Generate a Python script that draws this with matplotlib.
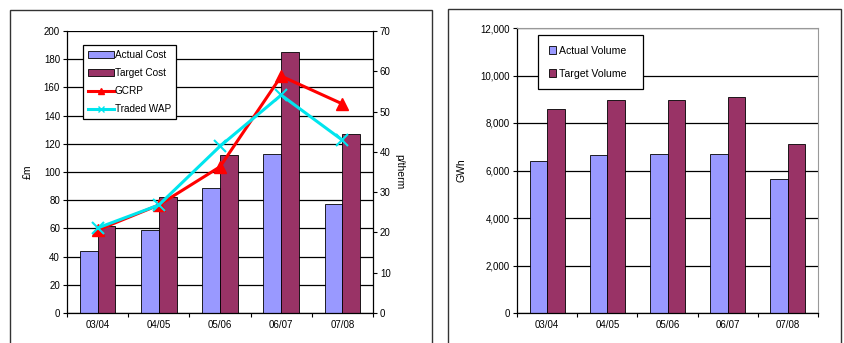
import matplotlib
matplotlib.use("Agg")
import matplotlib.pyplot as plt
from matplotlib.patches import Rectangle, Patch
from matplotlib.lines import Line2D
import numpy as np

years = ["03/04", "04/05", "05/06", "06/07", "07/08"]

# cost, £m
actual_cost = [44, 59, 89, 113, 77]
target_cost = [62, 82, 112, 185, 127]
# prices, p/therm
gcrp = [20.6, 26.8, 36.3, 58.8, 51.9]
traded_wap = [21.1, 26.8, 41.4, 54.1, 42.9]

# volume, GWh
actual_volume = [6400, 6650, 6700, 6700, 5650]
target_volume = [8600, 8950, 8950, 9100, 7100]

c_actual = "#9999FF"
c_target = "#993366"

plt.rcParams["font.family"] = "Liberation Sans"
plt.rcParams["font.size"] = 7

W, H = 845, 343
fig = plt.figure(figsize=(W / 100, H / 100), dpi=100)

def fx(px):
    return px / W

def fy(py):
    return 1 - py / H

# panel frames
fig.patches.append(Rectangle((fx(10), fy(360)), fx(432) - fx(10), fy(10) - fy(360),
                             transform=fig.transFigure, fill=False, ec="#333333", lw=1.0))
fig.patches.append(Rectangle((fx(448), fy(360)), fx(841) - fx(448), fy(9) - fy(360),
                             transform=fig.transFigure, fill=False, ec="#333333", lw=1.0))

x = np.arange(len(years))
bw = 0.29

def style_cat_axis(ax):
    ax.set_xlim(-0.5, len(years) - 0.5)
    ax.set_xticks(x)
    ax.set_xticklabels(years)
    ax.set_xticks(np.arange(-0.5, len(years)), minor=True)
    ax.tick_params(axis="x", which="major", length=0, pad=5)
    ax.tick_params(axis="x", which="minor", length=3, direction="out", width=0.8)
    ax.tick_params(axis="y", length=3, direction="out", width=0.8, pad=2)
    ax.yaxis.grid(True, color="black", lw=0.9)
    ax.set_axisbelow(True)

# ---- cost chart
ax1 = fig.add_axes([fx(67), fy(313), fx(373) - fx(67), fy(31) - fy(313)])
ax1.bar(x - bw / 2, actual_cost, bw, color=c_actual, edgecolor="black", lw=0.6)
ax1.bar(x + bw / 2, target_cost, bw, color=c_target, edgecolor="black", lw=0.6)
ax1.set_ylim(0, 200)
ax1.set_yticks(range(0, 201, 20))
style_cat_axis(ax1)
for s in ["top", "right"]:
    ax1.spines[s].set_visible(False)
ax1.spines["left"].set_linewidth(0.9)
ax1.spines["bottom"].set_linewidth(0.9)
ax1.set_ylabel("£m", labelpad=8, fontsize=7.5)

ax2 = ax1.twinx()
ax2.plot(x, gcrp, color="red", lw=2.2, marker="^", ms=8, zorder=3)
ax2.plot(x, traded_wap, color="#00E5EE", lw=2.2, marker="x", ms=8, mew=1.5, zorder=4)
ax2.set_ylim(0, 70)
ax2.set_yticks(range(0, 71, 10))
ax2.tick_params(axis="y", length=3, direction="out", width=0.8, pad=2)
for s in ["top", "left", "bottom"]:
    ax2.spines[s].set_visible(False)
ax2.spines["right"].set_linewidth(0.9)
ax2.set_ylabel("p/therm", rotation=270, labelpad=10, fontsize=7.5)

h1 = [Patch(facecolor=c_actual, edgecolor="black", lw=0.6),
      Patch(facecolor=c_target, edgecolor="black", lw=0.6),
      Line2D([], [], color="red", lw=2.2, marker="^", ms=4),
      Line2D([], [], color="#00E5EE", lw=2.2, marker="x", ms=4)]
leg1 = ax2.legend(h1, ["Actual Cost", "Target Cost", "GCRP", "Traded WAP"],
                  loc="upper left", bbox_to_anchor=(fx(83), fy(45)),
                  bbox_transform=fig.transFigure, frameon=True, fancybox=False,
                  edgecolor="black", framealpha=1, fontsize=7.2,
                  handlelength=2.6, handletextpad=0.1, labelspacing=0.8,
                  borderpad=0.5, borderaxespad=0)
leg1.get_frame().set_linewidth(0.9)

# ---- volume chart
ax3 = fig.add_axes([fx(517), fy(313), fx(818) - fx(517), fy(28) - fy(313)])
ax3.bar(x - bw / 2, actual_volume, bw, color=c_actual, edgecolor="black", lw=0.6)
ax3.bar(x + bw / 2, target_volume, bw, color=c_target, edgecolor="black", lw=0.6)
ax3.set_ylim(0, 12000)
ax3.set_yticks(range(0, 12001, 2000))
ax3.set_yticklabels([f"{v:,}" for v in range(0, 12001, 2000)])
style_cat_axis(ax3)
for s in ["top", "right"]:
    ax3.spines[s].set_color("#999999")
    ax3.spines[s].set_linewidth(0.8)
ax3.spines["left"].set_linewidth(0.9)
ax3.spines["bottom"].set_linewidth(0.9)
ax3.set_ylabel("GWh", labelpad=10, fontsize=7.5)

h3 = [Patch(facecolor=c_actual, edgecolor="black", lw=0.6),
      Patch(facecolor=c_target, edgecolor="black", lw=0.6)]
leg3 = ax3.legend(h3, ["Actual Volume", "Target Volume"],
                  loc="upper left", bbox_to_anchor=(fx(538), fy(35)),
                  bbox_transform=fig.transFigure, frameon=True, fancybox=False,
                  edgecolor="black", framealpha=1, fontsize=7.6,
                  handlelength=0.7, handleheight=0.7, handletextpad=0.3,
                  labelspacing=1.25, borderpad=1.0, borderaxespad=0,
                  columnspacing=0)
leg3.get_frame().set_linewidth(0.9)
leg3._legend_box.align = "left"
for t in leg3.get_texts():
    t.set_text(t.get_text() + "  ")

fig.savefig("out.png", dpi=100)
